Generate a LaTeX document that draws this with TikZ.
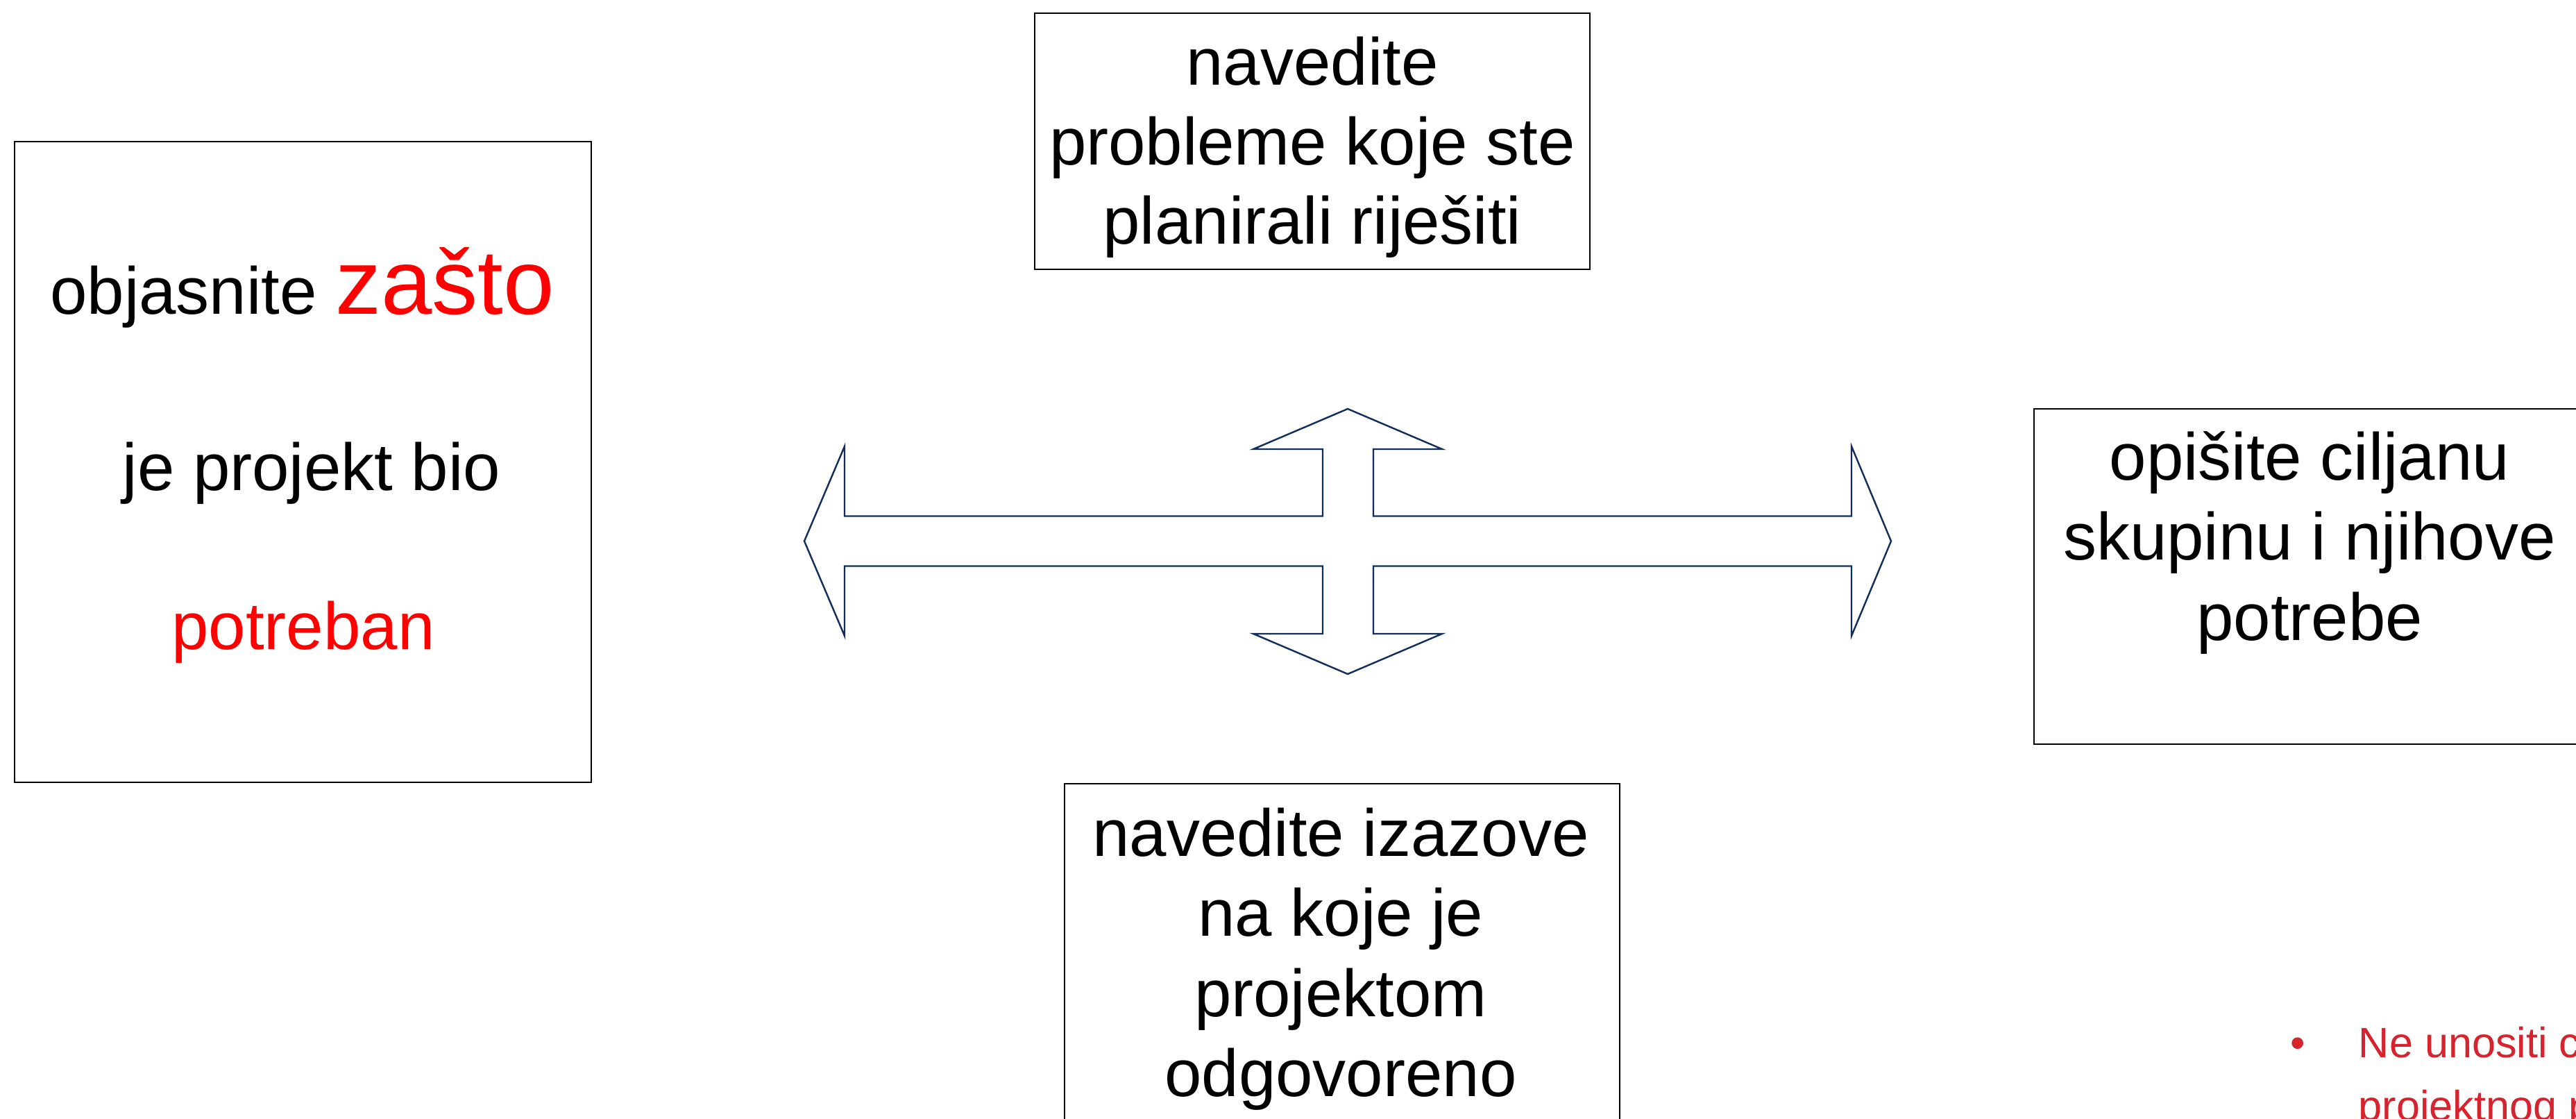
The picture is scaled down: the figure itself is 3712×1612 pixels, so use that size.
\documentclass[tikz,border=0pt]{standalone}
\usepackage{fontspec}
\setmainfont{Liberation Sans}
\definecolor{arrowblue}{RGB}{16,45,90}
\definecolor{notered}{RGB}{215,35,45}
\definecolor{keyred}{RGB}{255,0,0}
\begin{document}
\begin{tikzpicture}[x=0.25pt,y=-0.25pt,
  box/.style={draw=black,line width=0.45pt,rectangle,inner sep=0pt,fill=white},
  txt/.style={inner sep=0pt,anchor=base,font=\fontsize{24}{28}\selectfont},
  notetxt/.style={inner sep=0pt,anchor=base west,text=notered,font=\fontsize{15.3}{18}\selectfont},
  arrowline/.style={draw=arrowblue,line width=0.6pt,fill=white,line join=miter}]
\useasboundingbox (0,0) rectangle (3712,1612);
\clip (0,0) rectangle (3712,1612);
\fill[white] (0,0) rectangle (3712,1612);

% boxes
\node[box,minimum width=207.75pt,minimum height=230.75pt] (leftbox) at (436.5,665.5) {};
\node[box,minimum width=200pt,minimum height=92.25pt] (topbox) at (1891,203.5) {};
\node[box,minimum width=198.5pt,minimum height=120.75pt] (rightbox) at (3328,830.5) {};
\node[box,minimum width=200pt,minimum height=142.75pt] (bottombox) at (1934,1414.5) {};

% left box text
\node[txt] (l1) at (435.5,453) {objasnite \textcolor{keyred}{\fontsize{33}{38}\selectfont zašto}};
\node[txt] (l2) at (449,707) {je projekt bio};
\node[txt,text=keyred] (l3) at (437,936) {potreban};

% top box text
\node[txt] (t1) at (1891,123) {navedite};
\node[txt] (t2) at (1891,238) {probleme koje ste};
\node[txt] (t3) at (1891,352) {planirali riješiti};

% right box text
\node[txt] (r1) at (3328,692) {opišite ciljanu};
\node[txt] (r2) at (3328,807) {skupinu i njihove};
\node[txt] (r3) at (3328,923) {potrebe};

% bottom box text
\node[txt] (b1) at (1932,1233) {navedite izazove};
\node[txt] (b2) at (1932,1348) {na koje je};
\node[txt] (b3) at (1932,1464) {projektom};
\node[txt] (b4) at (1932,1579) {odgovoreno};

% quad arrow
\draw[arrowline]
  (1159,779.5) -- (1217,643) -- (1217,743.5) -- (1906,743.5) -- (1906,647)
  -- (1806,647) -- (1942,589) -- (2078,647) -- (1979,647) -- (1979,743.5)
  -- (2668,743.5) -- (2668,643) -- (2725,779.5) -- (2668,916) -- (2668,815.5)
  -- (1979,815.5) -- (1979,913) -- (2078,913) -- (1942,971) -- (1806,913)
  -- (1906,913) -- (1906,815.5) -- (1217,815.5) -- (1217,916) -- cycle;

% note at bottom right
\node[inner sep=0pt,anchor=base,text=notered,font=\fontsize{15.3}{18}\selectfont] (bullet) at (3311,1523) {•};
\node[notetxt] (n1) at (3398,1523) {Ne unositi c};
\node[notetxt] (n2) at (3398,1614) {projektnog p};
\end{tikzpicture}
\end{document}
